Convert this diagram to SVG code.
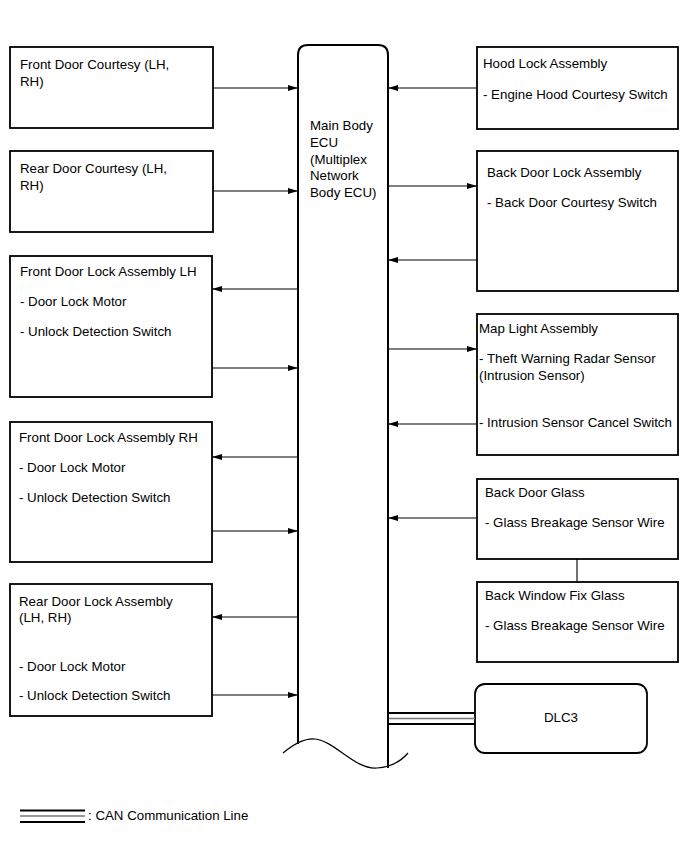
<svg xmlns="http://www.w3.org/2000/svg" width="690" height="855" viewBox="0 0 690 855">
<defs>
<marker id="ah" viewBox="0 0 10 6" refX="10" refY="3" markerWidth="10" markerHeight="6" markerUnits="userSpaceOnUse" orient="auto">
<path d="M0,0 L10,3 L0,6 Z" fill="#000"/>
</marker>
</defs>
<style>
.box{fill:#fff;stroke:#000;stroke-width:1.8}
.t{font-family:"Liberation Sans",Arial,sans-serif;font-size:13.3px;fill:#000}
.c{stroke:#000;stroke-width:1.1;fill:none;marker-end:url(#ah)}
.can{stroke:#000;stroke-width:2;fill:none}
.cang{stroke:#777;stroke-width:1.3;fill:none}
</style>
<rect width="690" height="855" fill="#fff"/>

<g id="ecu">
<path d="M298,744 L298,55 Q298,45 308,45 L378,45 Q388,45 388,55 L388,768" fill="none" stroke="#000" stroke-width="2"/>
<path d="M283,753 C295,743 305,738 315,739 C335,741 355,770 377,768 C392,767 402,760 408,753" fill="none" stroke="#000" stroke-width="1.2"/>
<text class="t" x="310" y="130">Main Body</text>
<text class="t" x="310" y="147">ECU</text>
<text class="t" x="310" y="164">(Multiplex</text>
<text class="t" x="310" y="180">Network</text>
<text class="t" x="310" y="197">Body ECU)</text>
</g>

<g id="front-door-courtesy">
<rect class="box" x="10" y="47" width="203" height="81"/>
<text class="t" x="20" y="69">Front Door Courtesy (LH,</text>
<text class="t" x="20" y="86">RH)</text>
</g>
<g id="rear-door-courtesy">
<rect class="box" x="10" y="151" width="203" height="81"/>
<text class="t" x="20" y="173">Rear Door Courtesy (LH,</text>
<text class="t" x="20" y="190">RH)</text>
</g>
<g id="front-door-lock-lh">
<rect class="box" x="10" y="256" width="202" height="141"/>
<text class="t" x="20" y="276">Front Door Lock Assembly LH</text>
<text class="t" x="20" y="306">- Door Lock Motor</text>
<text class="t" x="20" y="336">- Unlock Detection Switch</text>
</g>
<g id="front-door-lock-rh">
<rect class="box" x="10" y="422" width="202" height="140"/>
<text class="t" x="19" y="442">Front Door Lock Assembly RH</text>
<text class="t" x="19" y="472">- Door Lock Motor</text>
<text class="t" x="19" y="502">- Unlock Detection Switch</text>
</g>
<g id="rear-door-lock">
<rect class="box" x="10" y="584" width="202" height="132"/>
<text class="t" x="19" y="606">Rear Door Lock Assembly</text>
<text class="t" x="19" y="622">(LH, RH)</text>
<text class="t" x="19" y="671">- Door Lock Motor</text>
<text class="t" x="19" y="700">- Unlock Detection Switch</text>
</g>

<g id="hood-lock">
<rect class="box" x="477" y="47" width="201" height="82"/>
<text class="t" x="483" y="68">Hood Lock Assembly</text>
<text class="t" x="483" y="99">- Engine Hood Courtesy Switch</text>
</g>
<g id="back-door-lock">
<rect class="box" x="477" y="151" width="201" height="140"/>
<text class="t" x="487" y="177">Back Door Lock Assembly</text>
<text class="t" x="487" y="207">- Back Door Courtesy Switch</text>
</g>
<g id="map-light">
<rect class="box" x="477" y="314" width="201" height="141"/>
<text class="t" x="479" y="333">Map Light Assembly</text>
<text class="t" x="479" y="363">- Theft Warning Radar Sensor</text>
<text class="t" x="479" y="380">(Intrusion Sensor)</text>
<text class="t" x="479" y="427">- Intrusion Sensor Cancel Switch</text>
</g>
<g id="back-door-glass">
<rect class="box" x="477" y="479" width="201" height="80"/>
<text class="t" x="485" y="497">Back Door Glass</text>
<text class="t" x="485" y="527">- Glass Breakage Sensor Wire</text>
</g>
<g id="back-window-fix-glass">
<rect class="box" x="477" y="582" width="201" height="80"/>
<text class="t" x="485" y="600">Back Window Fix Glass</text>
<text class="t" x="485" y="630">- Glass Breakage Sensor Wire</text>
</g>
<g id="dlc3">
<rect class="box" x="475" y="684" width="172" height="69" rx="10" ry="10"/>
<text class="t" x="561" y="722" text-anchor="middle">DLC3</text>
</g>

<g id="connectors">
<path class="c" d="M213,88 L298,88"/>
<path class="c" d="M213,191 L298,191"/>
<path class="c" d="M298,289 L212,289"/>
<path class="c" d="M212,368 L298,368"/>
<path class="c" d="M298,457 L212,457"/>
<path class="c" d="M212,531 L298,531"/>
<path class="c" d="M298,617 L212,617"/>
<path class="c" d="M212,695 L298,695"/>
<path class="c" d="M477,88 L388,88"/>
<path class="c" d="M388,186 L477,186"/>
<path class="c" d="M477,260 L388,260"/>
<path class="c" d="M388,349 L477,349"/>
<path class="c" d="M477,424 L388,424"/>
<path class="c" d="M477,518 L388,518"/>
<path d="M577,559 L577,582" stroke="#000" stroke-width="1.1" fill="none"/>
<path class="can" d="M389,713 L475,713"/>
<path class="cang" d="M389,718.5 L475,718.5"/>
<path class="can" d="M389,724 L475,724"/>
</g>

<g id="legend">
<path class="can" d="M20,810.5 L85,810.5"/>
<path class="cang" d="M20,816 L85,816"/>
<path class="can" d="M20,822 L85,822"/>
<text class="t" x="88" y="820">: CAN Communication Line</text>
</g>
</svg>
